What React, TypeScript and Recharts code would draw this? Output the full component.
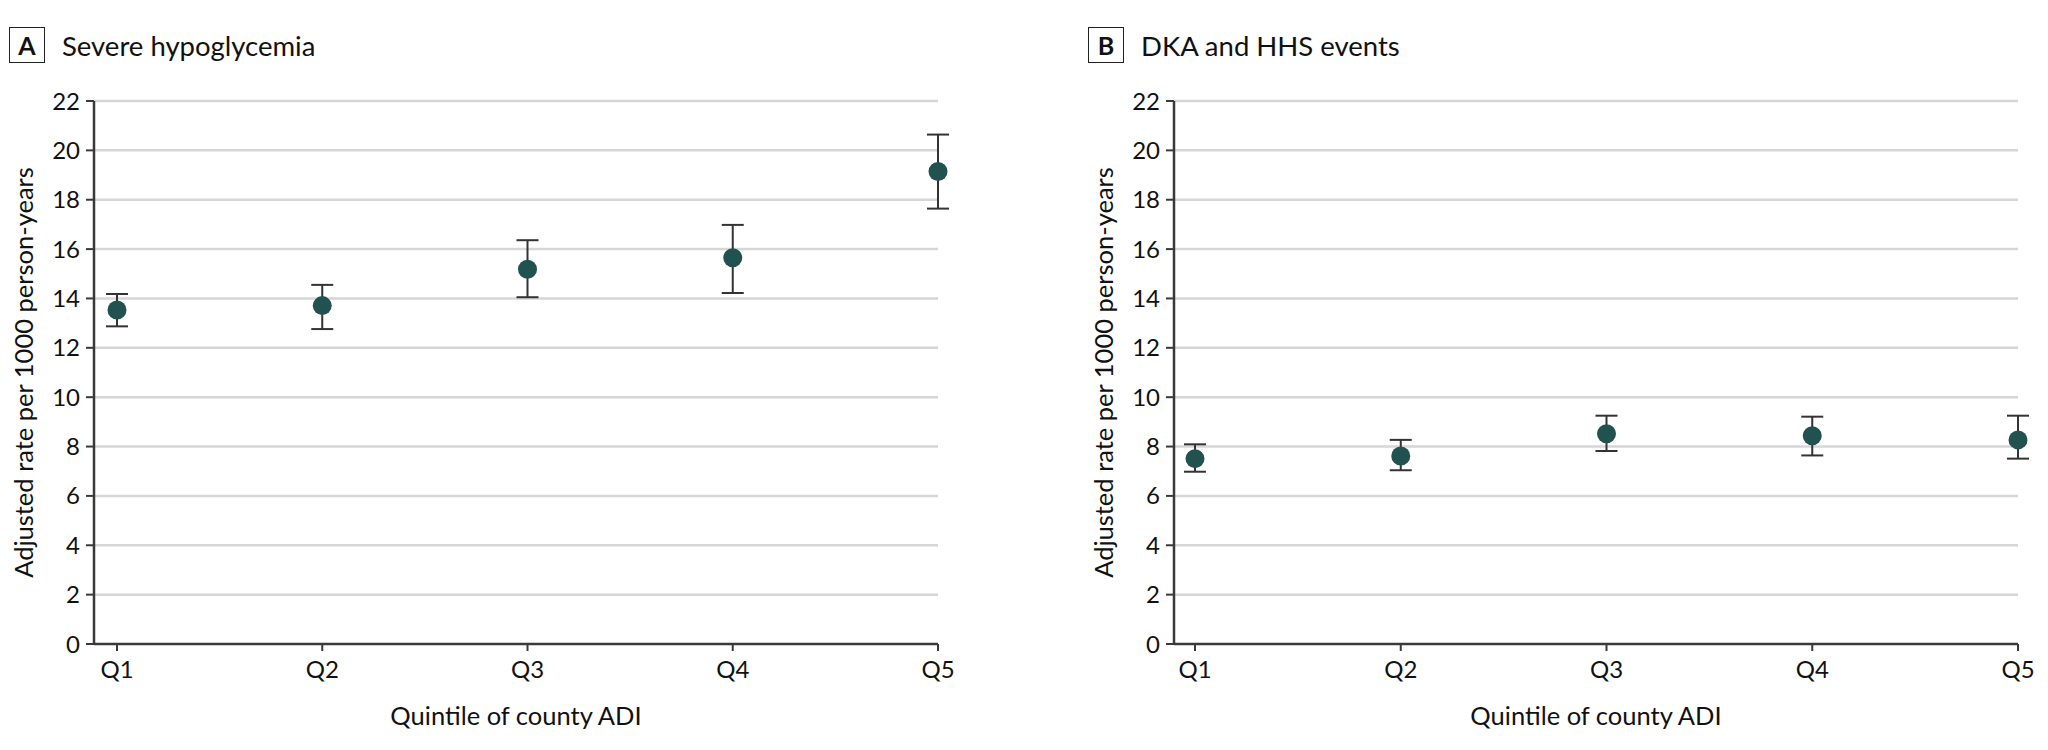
import React from 'react';
import { ScatterChart, Scatter, XAxis, YAxis, CartesianGrid, ErrorBar } from 'recharts';

const categories = ['Q1', 'Q2', 'Q3', 'Q4', 'Q5'];
const quintileIndex = [1, 2, 3, 4, 5];
const yTicks = [0, 2, 4, 6, 8, 10, 12, 14, 16, 18, 20, 22];

const hypoMean = [13.53, 13.71, 15.18, 15.65, 19.14];
const hypoLow = [12.87, 12.76, 14.05, 14.22, 17.64];
const hypoHigh = [14.18, 14.55, 16.36, 16.98, 20.64];

const dkaMean = [7.51, 7.62, 8.52, 8.44, 8.27];
const dkaLow = [6.98, 7.04, 7.82, 7.64, 7.51];
const dkaHigh = [8.09, 8.27, 9.25, 9.21, 9.25];

const FONT = "Lato, 'Open Sans', sans-serif";
const DOT = '#22524f';
const AXIS = '#3a3a3a';

const build = (mean: number[], low: number[], high: number[]) =>
  quintileIndex.map((x, i) => ({
    x,
    y: mean[i],
    err: [mean[i] - low[i], high[i] - mean[i]],
  }));

const hypoData = build(hypoMean, hypoLow, hypoHigh);
const dkaData = build(dkaMean, dkaLow, dkaHigh);

const Dot = (props: any) => {
  const { cx, cy } = props;
  if (cx == null || cy == null) return null;
  return <circle cx={cx} cy={cy} r={9.5} fill={DOT} />;
};

const YTitle = (props: any) => {
  const vb = props.viewBox || {};
  const x = 23;
  const y = vb.y + vb.height / 2;
  return (
    <text
      x={x}
      y={y}
      transform={`rotate(-90, ${x}, ${y})`}
      textAnchor="middle"
      dominantBaseline="central"
      fontFamily={FONT}
      fontSize={25.5}
      fill="#111"
    >
      Adjusted rate per 1000 person-years
    </text>
  );
};

const XTitle = (props: any) => {
  const vb = props.viewBox || {};
  const x = vb.x + vb.width / 2;
  return (
    <text x={x} y={725} textAnchor="middle" fontFamily={FONT} fontSize={25.5} fill="#111">
      Quintile of county ADI
    </text>
  );
};

type PanelProps = {
  data: { x: number; y: number; err: number[] }[];
  width: number;
  right: number;
  padLeft: number;
};

const Panel = ({ data, width, right, padLeft }: PanelProps) => (
  <ScatterChart width={width} height={750} margin={{ top: 101, right, left: 0, bottom: 0 }} style={{ overflow: 'visible' }}>
    <CartesianGrid
      vertical={false}
      horizontal
      stroke="#d6d6d6"
      strokeWidth={2.5}
      horizontalValues={yTicks.filter((t) => t > 0)}
    />
    <XAxis
      type="number"
      dataKey="x"
      domain={[1, 5]}
      ticks={quintileIndex}
      tickFormatter={(v: number) => categories[v - 1]}
      padding={{ left: padLeft, right: 0 }}
      height={106}
      tickSize={7}
      tickMargin={10}
      axisLine={{ stroke: AXIS, strokeWidth: 2.5 }}
      tickLine={{ stroke: AXIS, strokeWidth: 2 }}
      tick={{ fontFamily: FONT, fontSize: 24, fill: '#111' }}
      label={{ content: XTitle }}
    />
    <YAxis
      type="number"
      dataKey="y"
      domain={[0, 22]}
      ticks={yTicks}
      width={94}
      tickSize={8}
      tickMargin={6}
      axisLine={{ stroke: AXIS, strokeWidth: 2.5 }}
      tickLine={{ stroke: AXIS, strokeWidth: 2 }}
      tick={{ fontFamily: FONT, fontSize: 24, fill: '#111' }}
      interval={0}
      label={{ content: YTitle }}
    />
    <Scatter data={data} shape={Dot} isAnimationActive={false}>
      <ErrorBar dataKey="err" direction="y" width={11} stroke="#333" strokeWidth={2} />
    </Scatter>
  </ScatterChart>
);

const Title = ({ letter, text, left }: { letter: string; text: string; left: number }) => (
  <>
    <div
      style={{
        position: 'absolute',
        left,
        top: 27,
        width: 34,
        height: 34,
        border: '1.5px solid #222',
        fontFamily: FONT,
        fontWeight: 700,
        fontSize: 25,
        lineHeight: '34px',
        textAlign: 'center',
        color: '#111',
      }}
    >
      {letter}
    </div>
    <div
      style={{
        position: 'absolute',
        left: left + 53,
        top: 27,
        height: 37,
        fontFamily: FONT,
        fontSize: 27.5,
        lineHeight: '37px',
        color: '#111',
        whiteSpace: 'nowrap',
      }}
    >
      {text}
    </div>
  </>
);

export default function App() {
  return (
    <div style={{ position: 'absolute', left: 0, top: 0, width: 2048, height: 750, background: '#fff' }}>
      <div style={{ position: 'absolute', left: 0, top: 0 }}>
        <Panel data={hypoData} width={1000} right={62} padLeft={23} />
      </div>
      <div style={{ position: 'absolute', left: 1080, top: 0 }}>
        <Panel data={dkaData} width={968} right={30} padLeft={21} />
      </div>
      <Title letter="A" text="Severe hypoglycemia" left={9} />
      <Title letter="B" text="DKA and HHS events" left={1088} />
    </div>
  );
}
